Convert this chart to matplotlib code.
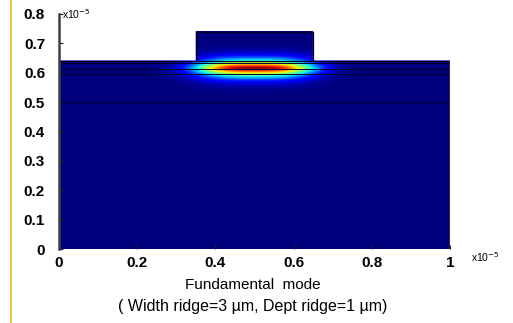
import numpy as np
import matplotlib
matplotlib.use("Agg")
import matplotlib.pyplot as plt
from matplotlib.patches import Rectangle

# geometry (units of 1e-5 m)
domain_width = 1.0
slab_top = 0.64
ridge_left = 0.35
ridge_right = 0.65
ridge_top = 0.74
layer_lines = [0.5, 0.597, 0.612, 0.632]

# mode profile parameters
mode_x0 = 0.5
mode_y0 = 0.614
mode_wx = 0.148
mode_px = 3.0
mode_wy = 0.028
mode_py = 1.5

x_ticks = [0, 0.2, 0.4, 0.6, 0.8, 1.0]
x_labels = ["0", "0.2", "0.4", "0.6", "0.8", "1"]
y_ticks = [0, 0.1, 0.2, 0.3, 0.4, 0.5, 0.6, 0.7, 0.8]
y_labels = ["0", "0.1", "0.2", "0.3", "0.4", "0.5", "0.6", "0.7", "0.8"]

plt.rcParams['font.family'] = ['Liberation Sans', 'DejaVu Sans']

fig = plt.figure(figsize=(5.13, 3.23), dpi=100)
ax = fig.add_axes([0.115, 0.229, 0.762, 0.728])

# field on a grid
xs = np.linspace(0, domain_width, 800)
ys = np.linspace(0, ridge_top, 600)
X, Y = np.meshgrid(xs, ys)
field = np.exp(-np.abs((X - mode_x0) / mode_wx) ** mode_px) * \
    np.exp(-np.abs((Y - mode_y0) / mode_wy) ** mode_py)
outside = (Y > slab_top) & ((X < ridge_left) | (X > ridge_right))
field = np.ma.masked_where(outside, field)
cmap = plt.get_cmap('jet').copy()
cmap.set_bad('white')
ax.imshow(field, origin='lower', extent=[0, domain_width, 0, ridge_top],
          cmap=cmap, vmin=0, vmax=1, aspect='auto', interpolation='bilinear')

# boundaries
line_col = '#000028'
ax.hlines(layer_lines, 0, domain_width, colors=line_col, lw=0.7)
ax.hlines(slab_top, 0, ridge_left, colors=line_col, lw=0.8)
ax.hlines(slab_top, ridge_right, domain_width, colors=line_col, lw=0.8)
ax.add_patch(Rectangle((ridge_left, slab_top), ridge_right - ridge_left,
                       ridge_top - slab_top, fill=False, ec=line_col, lw=0.9))
ax.vlines(domain_width, 0, slab_top, colors='#303030', lw=1.2)

ax.set_xlim(0, 1.0)
ax.set_ylim(0, 0.8)
ax.set_xticks(x_ticks)
ax.set_xticklabels(x_labels, fontweight='bold', fontsize=11)
ax.set_yticks(y_ticks)
ax.set_yticklabels(y_labels, fontweight='bold', fontsize=11)
ax.tick_params(direction='in', length=3, pad=5, color='#202020')
ax.tick_params(axis='y', pad=10)
for s in ['top', 'right']:
    ax.spines[s].set_visible(False)
ax.spines['left'].set_linewidth(1.8)
ax.spines['left'].set_color('#404040')
ax.spines['bottom'].set_visible(False)

fig.text(0.121, 0.955, r"x10$^{-5}$", fontsize=7.5, va='center')
fig.text(0.918, 0.205, r"x10$^{-5}$", fontsize=7.5, va='center')
fig.text(0.493, 0.118, "Fundamental  mode", fontsize=11, ha='center', va='center')
fig.text(0.493, 0.052, "( Width ridge=3 µm, Dept ridge=1 µm)", fontsize=11.5,
         ha='center', va='center')

fig.add_artist(plt.Line2D([10.5 / 513, 10.5 / 513], [0, 1], color='#E8B830', lw=1.2))

fig.savefig("out.png", dpi=100)
